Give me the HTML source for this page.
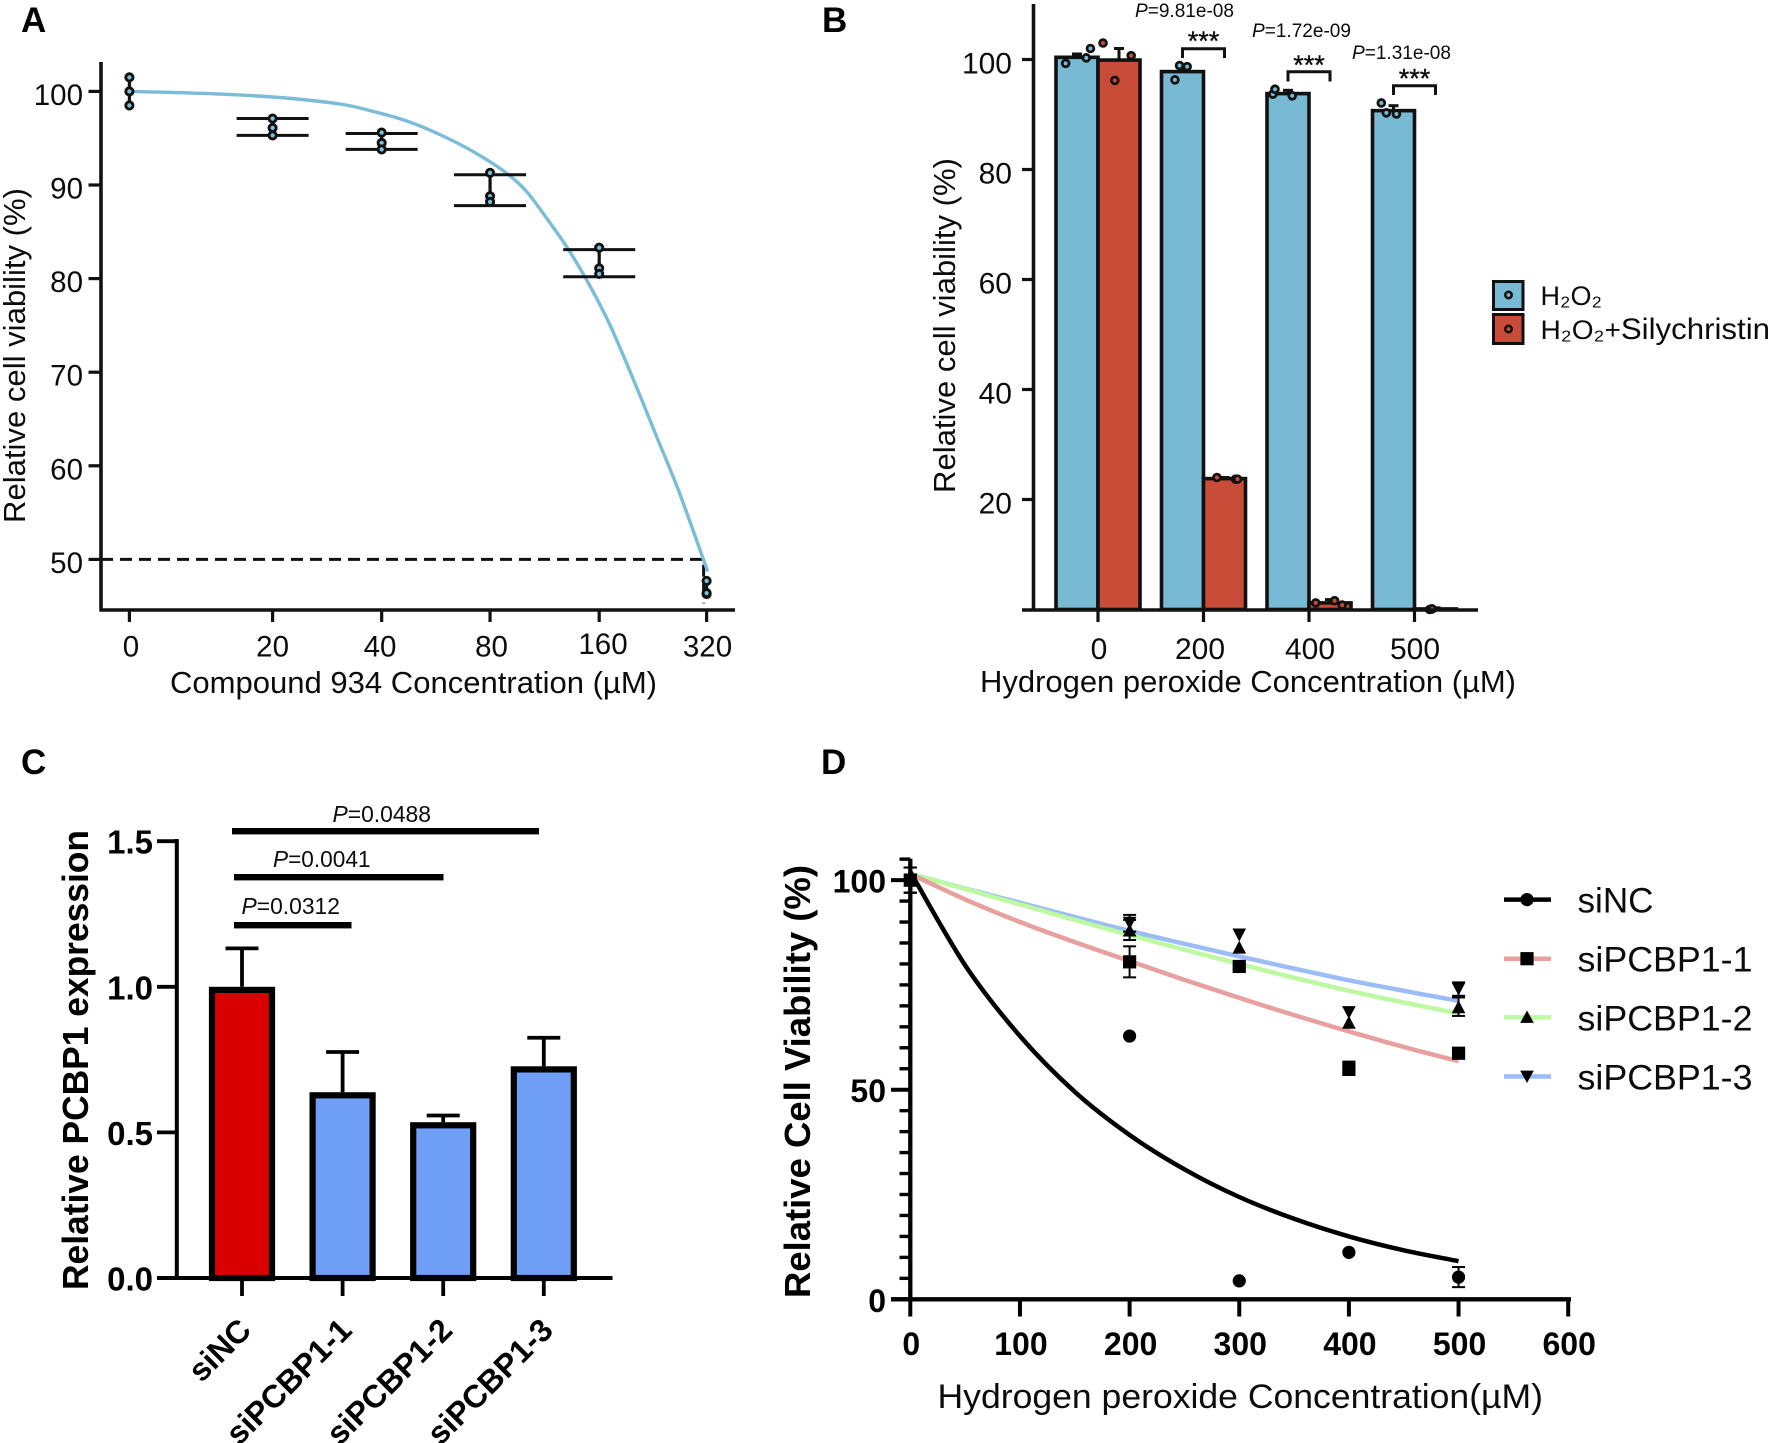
<!DOCTYPE html>
<html lang="en">
<head>
<meta charset="utf-8">
<title>Cell viability figure panels A-D</title>
<style>
html,body{margin:0;padding:0;background:#fff;}
svg{display:block;font-family:"Liberation Sans",sans-serif;fill:#0c0c0c;}
.letter{font-size:35px;font-weight:700;fill:#000;}
.bold{font-weight:700;fill:#000;}
</style>
</head>
<body>
<svg id="fig" xmlns="http://www.w3.org/2000/svg" width="1772" height="1443" viewBox="0 0 1772 1443">
<rect width="1772" height="1443" fill="#fff"/>

<text class="letter" x="21" y="32">A</text>
<text class="letter" x="822" y="32">B</text>
<text class="letter" x="21" y="774">C</text>
<text class="letter" x="821" y="774">D</text>

<g id="panelA">
  <text transform="translate(25,523) rotate(-90)" font-size="31" textLength="335" lengthAdjust="spacingAndGlyphs">Relative cell viability (%)</text>
  <text x="170" y="693" font-size="31" textLength="487" lengthAdjust="spacingAndGlyphs">Compound 934 Concentration (µM)</text>
</g>

<g id="panelB">
  <text transform="translate(955,493) rotate(-90)" font-size="31" textLength="335" lengthAdjust="spacingAndGlyphs">Relative cell viability (%)</text>
  <text x="980" y="692" font-size="31" textLength="536" lengthAdjust="spacingAndGlyphs">Hydrogen peroxide Concentration (µM)</text>
  <g>
    <text x="1135" y="17" font-size="19" textLength="99" lengthAdjust="spacingAndGlyphs"><tspan font-style="italic">P</tspan>=9.81e-08</text>
    <text x="1203.5" y="50" font-size="27" text-anchor="middle" stroke="#111" stroke-width="0.4">***</text>
    <path d="M1182.5 58V48.7H1224.5V58" fill="none" stroke="#111" stroke-width="3"/>
  </g>
  <g>
    <text x="1252" y="37" font-size="19" textLength="99" lengthAdjust="spacingAndGlyphs"><tspan font-style="italic">P</tspan>=1.72e-09</text>
    <text x="1309" y="74" font-size="27" text-anchor="middle" stroke="#111" stroke-width="0.4">***</text>
    <path d="M1288 81.5V71.7H1330V81.5" fill="none" stroke="#111" stroke-width="3"/>
  </g>
  <g>
    <text x="1352" y="59" font-size="19" textLength="99" lengthAdjust="spacingAndGlyphs"><tspan font-style="italic">P</tspan>=1.31e-08</text>
    <text x="1414.5" y="87.5" font-size="27" text-anchor="middle" stroke="#111" stroke-width="0.4">***</text>
    <path d="M1393.5 95V85.7H1435.5V95" fill="none" stroke="#111" stroke-width="3"/>
  </g>
  <g>
    <g>
      <rect x="1493.5" y="281.5" width="29.5" height="28" fill="#78b9d3" stroke="#111" stroke-width="3"/>
      <circle cx="1508.5" cy="295" r="3.2" fill="#78b9d3" stroke="#111" stroke-width="2.6"/>
      <text x="1540.5" y="305" font-size="27">H₂O₂</text>
    </g>
    <g>
      <rect x="1493.5" y="314.5" width="29.5" height="29" fill="#c94c38" stroke="#111" stroke-width="3"/>
      <circle cx="1508.5" cy="329" r="3.2" fill="#c94c38" stroke="#111" stroke-width="2.6"/>
      <text x="1540.5" y="339" font-size="27" textLength="229.5" lengthAdjust="spacingAndGlyphs">H₂O₂+<tspan font-size="30">Silychristin</tspan></text>
    </g>
  </g>
</g>

<g id="panelC">
  <text class="bold" transform="translate(88,1290) rotate(-90)" font-size="36" textLength="460" lengthAdjust="spacingAndGlyphs">Relative PCBP1 expression</text>
  <g>
    <rect x="232" y="828" width="307" height="6.4" fill="#000"/>
    <text x="332.5" y="822" font-size="22.7" textLength="98.5" lengthAdjust="spacingAndGlyphs"><tspan font-style="italic">P</tspan>=0.0488</text>
    <rect x="234" y="874" width="209.5" height="6.4" fill="#000"/>
    <text x="273" y="867" font-size="22.7" textLength="97.5" lengthAdjust="spacingAndGlyphs"><tspan font-style="italic">P</tspan>=0.0041</text>
    <rect x="234" y="922" width="117.5" height="6.4" fill="#000"/>
    <text x="241.5" y="914" font-size="22.7" textLength="98.5" lengthAdjust="spacingAndGlyphs"><tspan font-style="italic">P</tspan>=0.0312</text>
  </g>
</g>

<g id="panelD">
  <text class="bold" transform="translate(810,1298) rotate(-90)" font-size="36" textLength="433" lengthAdjust="spacingAndGlyphs">Relative Cell Viability (%)</text>
  <text x="937.5" y="1408" font-size="34" textLength="605.5" lengthAdjust="spacingAndGlyphs">Hydrogen peroxide Concentration(µM)</text>
  <g>
    <g>
      <path d="M1504 899.6H1551" stroke="#000" stroke-width="4.5"/>
      <circle cx="1527" cy="899.6" r="6.6" fill="#000"/>
      <text x="1577.5" y="912.5" font-size="35" textLength="76" lengthAdjust="spacingAndGlyphs">siNC</text>
    </g>
    <g>
      <path d="M1504 958.7H1551" stroke="#e8a09f" stroke-width="4.5"/>
      <rect x="1520.4" y="952.1" width="13.2" height="13.2" fill="#000"/>
      <text x="1577.5" y="971.5" font-size="35" textLength="175" lengthAdjust="spacingAndGlyphs">siPCBP1-1</text>
    </g>
    <g>
      <path d="M1504 1017.4H1551" stroke="#bcf9a0" stroke-width="4.5"/>
      <path d="M1527 1010.5l6.8 12.4h-13.6z" fill="#000"/>
      <text x="1577.5" y="1030.5" font-size="35" textLength="175" lengthAdjust="spacingAndGlyphs">siPCBP1-2</text>
    </g>
    <g>
      <path d="M1504 1076.5H1551" stroke="#9cbcf7" stroke-width="4.5"/>
      <path d="M1527 1083l6.8-12.4h-13.6z" fill="#000"/>
      <text x="1577.5" y="1089.5" font-size="35" textLength="175" lengthAdjust="spacingAndGlyphs">siPCBP1-3</text>
    </g>
  </g>
</g>
</svg>

<script>
/* ---------- Panel A data ---------- */
const aCategories = ['0', '20', '40', '80', '160', '320'];
const aLogDose = [3, 4.32, 5.325, 6.324, 7.33, 8.32];
const aYTicks = [100, 90, 80, 70, 60, 50];
const aRep1 = [101.5, 97.1, 95.6, 91.3, 83.3, 47.7];
const aRep2 = [100, 96.1, 94.5, 88.8, 81.1, 46.3];
const aRep3 = [98.5, 95.3, 93.8, 88.2, 80.5, 46.4];
const aCapHigh = [101.5, 97.1, 95.5, 91.1, 83.1, 47.7];
const aCapLow = [98.5, 95.3, 93.8, 87.8, 80.2, 46.3];
const aHasCaps = [false, true, true, true, true, false];
const aCurveLog = [3, 3.64, 4.33, 4.94, 5.25, 5.556, 5.86, 6.17, 6.477, 6.662, 6.846, 7.03, 7.215, 7.4, 7.55, 7.706, 7.86, 8.06, 8.29, 8.33];
const aCurveVal = [100, 99.8, 99.4, 98.65, 97.85, 96.84, 95.4, 93.56, 91.25, 89.28, 86.44, 83.4, 79.85, 75.76, 71.85, 67.5, 63.1, 57.4, 50, 48.7];
const aCutoff = 50;

/* ---------- Panel B data ---------- */
const bCategories = ['0', '200', '400', '500'];
const bYTicks = [100, 80, 60, 40, 20];
const bH2O2 = [100.4, 97.8, 93.8, 90.7];
const bSily = [99.9, 23.8, 1.2, 0.1];
const bH2O2Err = [101, 98.6, 94.4, 91.6];
const bSilyErr = [102, 24, 1.8, 0.3];
const bH2O2Reps = [[99.3, 100.3, 102], [96.3, 98.9, 98.7], [93.7, 94.6, 93.4], [92.1, 90.3, 90.1]];
const bSilyReps = [[103, 96.2, 100.7], [24, 23.7, 23.7], [1.2, 1.6, 0.8], [0, 0.1, 0.1]];
const bH2O2Jitter = [[-0.27, 0.22, 0.32], [-0.18, -0.07, 0.11], [-0.36, -0.31, 0.1], [-0.29, -0.17, 0.07]];
const bSilyJitter = [[-0.38, -0.1, 0.29], [-0.18, 0.26, 0.31], [-0.34, 0.11, 0.29], [-0.14, -0.1, -0.08]];

/* ---------- Panel C data ---------- */
const cCategories = ['siNC', 'siPCBP1-1', 'siPCBP1-2', 'siPCBP1-3'];
const cValues = [1.0, 0.638, 0.535, 0.727];
const cErrTop = [1.132, 0.776, 0.558, 0.825];
const cYTicks = [1.5, 1.0, 0.5, 0.0];
const cColors = ['#db0000', '#6f9ff6', '#6f9ff6', '#6f9ff6'];

/* ---------- Panel D data ---------- */
const dXTicks = [0, 100, 200, 300, 400, 500, 600];
const dYMajor = [100, 50, 0];
const dYMinor = [105, 95, 90, 85, 80, 75, 70, 65, 60, 55, 45, 40, 35, 30, 25, 20, 15, 10, 5];
const dCurveDose = [0, 50, 100, 150, 200, 250, 300, 350, 400, 450, 500];
const dCurveNC = [102, 79.7, 62.8, 49.5, 39.2, 31, 24.4, 19.2, 15, 11.7, 9.1];
const dCurveP1 = [101.5, 95.4, 90, 85.2, 80.7, 76.2, 71.9, 67.8, 63.9, 60.2, 56.8];
const dCurveP2 = [101.5, 97.9, 94.2, 90.5, 86.9, 83.4, 80, 76.7, 73.6, 70.8, 68.2];
const dCurveP3 = [101.5, 98, 94.6, 91.2, 87.9, 84.8, 81.8, 78.9, 76.1, 73.6, 71.2];
const dPointDose = [0, 200, 300, 400, 500];
const dPtsNC = [100, 62.8, 4.4, 11.2, 5.3];
const dErrNC = [3, 0, 0, 0, 2.4];
const dPtsP1 = [100, 80.5, 79.4, 55.1, 58.7];
const dErrP1 = [3, 3.7, 0.5, 1.6, 0.3];
const dPtsP2 = [100, 88.1, 84, 66.1, 69.8];
const dErrP2 = [3, 2.4, 0, 0, 2.2];
const dPtsP3 = [100, 89.7, 86.9, 68.4, 74];
const dErrP3 = [3, 2, 0, 0, 1.6];

/* ---------- helpers ---------- */
const SVGNS = 'http://www.w3.org/2000/svg';
function mk(parent, tag, attrs, name, text) {
  const el = document.createElementNS(SVGNS, tag);
  for (const k in attrs) el.setAttribute(k, attrs[k]);
  
  
  if (text !== undefined) el.textContent = text;
  parent.appendChild(el);
  return el;
}
function ln(parent, x1, y1, x2, y2, w, color, name) {
  return mk(parent, 'line', {x1: x1, y1: y1, x2: x2, y2: y2, stroke: color || '#111', 'stroke-width': w}, name);
}
function smooth(pts) {
  let d = 'M' + pts[0][0].toFixed(1) + ' ' + pts[0][1].toFixed(1);
  for (let i = 0; i < pts.length - 1; i++) {
    const p0 = pts[i - 1] || pts[i], p1 = pts[i], p2 = pts[i + 1], p3 = pts[i + 2] || p2;
    const c1x = p1[0] + (p2[0] - p0[0]) / 6, c1y = p1[1] + (p2[1] - p0[1]) / 6;
    const c2x = p2[0] - (p3[0] - p1[0]) / 6, c2y = p2[1] - (p3[1] - p1[1]) / 6;
    d += 'C' + c1x.toFixed(1) + ' ' + c1y.toFixed(1) + ' ' + c2x.toFixed(1) + ' ' + c2y.toFixed(1) + ' ' + p2[0].toFixed(1) + ' ' + p2[1].toFixed(1);
  }
  return d;
}

/* ---------- Panel A ---------- */
(function () {
  const g = document.getElementById('panelA');
  const xA = function (l) { return 129.4 + (l - 3) * 108.5; };
  const yA = function (v) { return 91.4 + (100 - v) * 9.36; };
  const xLabelCx = [131, 272.6, 380, 491.5, 603, 707.5];
  ln(g, 101, 62, 101, 611.5, 3.6, '#111', 'y-axis-a');
  ln(g, 100, 610, 735, 610, 3.6, '#111', 'x-axis-a');
  aYTicks.forEach(function (t) {
    ln(g, 88.5, yA(t), 101, yA(t), 3.2, '#111', 'y-tick-a-' + t);
    mk(g, 'text', {x: 83, y: yA(t) + 13.5, 'font-size': 29.5, 'text-anchor': 'end'}, 'y-tick-label-a-' + t, String(t));
  });
  aCategories.forEach(function (c, i) {
    ln(g, xA(aLogDose[i]), 610, xA(aLogDose[i]), 622, 3.2, '#111', 'x-tick-a-' + c);
    mk(g, 'text', {x: xLabelCx[i], y: c === '160' ? 654 : 656.5, 'font-size': 29.5, 'text-anchor': 'middle'}, 'x-tick-label-a-' + c, c);
  });
  mk(g, 'path', {d: 'M101 ' + yA(aCutoff) + 'H' + (xA(8.32) - 3) + 'V' + yA(45.3), fill: 'none', stroke: '#111', 'stroke-width': 3, 'stroke-dasharray': '12 7'}, 'ic50-dashed-line');
  const pts = aCurveLog.map(function (l, i) { return [xA(l), yA(aCurveVal[i])]; });
  mk(g, 'path', {d: smooth(pts), fill: 'none', stroke: '#7bbcd8', 'stroke-width': 3.4}, 'fit-curve');
  aCategories.forEach(function (c, i) {
    const x = xA(aLogDose[i]);
    ln(g, x, yA(aCapHigh[i]), x, yA(aCapLow[i]), 3.2, '#111', 'error-bar-' + c);
    if (aHasCaps[i]) {
      ln(g, x - 36, yA(aCapHigh[i]), x + 36, yA(aCapHigh[i]), 3, '#111', 'error-cap-high-' + c);
      ln(g, x - 36, yA(aCapLow[i]), x + 36, yA(aCapLow[i]), 3, '#111', 'error-cap-low-' + c);
    }
    [aRep1[i], aRep2[i], aRep3[i]].forEach(function (v, j) {
      mk(g, 'circle', {cx: x, cy: yA(v), r: 3.6, fill: '#7bc0dc', stroke: '#111', 'stroke-width': 2.9}, 'point-' + c + '-' + j);
    });
  });
})();

/* ---------- Panel B ---------- */
(function () {
  const g = document.getElementById('panelB');
  const xB = function (i) { return 1098 + 105.5 * i; };
  const yB = function (v) { return 609.5 - 5.5 * v; };
  const BW = 42;
  const labelCx = [1099, 1200, 1310, 1415];
  ln(g, 1033.5, 4, 1033.5, 611, 3.6, '#111', 'y-axis-b');
  bYTicks.forEach(function (t) {
    ln(g, 1022, yB(t), 1033.5, yB(t), 3.2, '#111', 'y-tick-b-' + t);
    mk(g, 'text', {x: 1012, y: yB(t) + 14, 'font-size': 30, 'text-anchor': 'end'}, 'y-tick-label-b-' + t, String(t));
  });
  bCategories.forEach(function (c, i) {
    const x = xB(i);
    ln(g, x - BW / 2, yB(bH2O2Err[i]), x - BW / 2, yB(bH2O2[i]), 3, '#111', 'error-h2o2-' + c);
    ln(g, x - BW / 2 - 5, yB(bH2O2Err[i]), x - BW / 2 + 5, yB(bH2O2Err[i]), 3, '#111', 'error-cap-h2o2-' + c);
    ln(g, x + BW / 2, yB(bSilyErr[i]), x + BW / 2, yB(bSily[i]), 3, '#111', 'error-sily-' + c);
    ln(g, x + BW / 2 - 5, yB(bSilyErr[i]), x + BW / 2 + 5, yB(bSilyErr[i]), 3, '#111', 'error-cap-sily-' + c);
    mk(g, 'rect', {x: x - BW, y: yB(bH2O2[i]), width: BW, height: yB(0) - yB(bH2O2[i]), fill: '#78b9d3', stroke: '#111', 'stroke-width': 3.6}, 'bar-h2o2-' + c);
    mk(g, 'rect', {x: x, y: yB(bSily[i]), width: BW, height: yB(0) - yB(bSily[i]), fill: '#c94c38', stroke: '#111', 'stroke-width': 3.6}, 'bar-h2o2-silychristin-' + c);
    ln(g, x, 610, x, 622, 3.2, '#111', 'x-tick-b-' + c);
    mk(g, 'text', {x: labelCx[i], y: 659, 'font-size': 30, 'text-anchor': 'middle'}, 'x-tick-label-b-' + c, c);
    bH2O2Reps[i].forEach(function (v, j) {
      mk(g, 'circle', {cx: x - BW / 2 + bH2O2Jitter[i][j] * BW, cy: yB(v), r: 3.4, fill: '#78b9d3', stroke: '#111', 'stroke-width': 2.8}, 'point-h2o2-' + c + '-' + j);
    });
    bSilyReps[i].forEach(function (v, j) {
      mk(g, 'circle', {cx: x + BW / 2 + bSilyJitter[i][j] * BW, cy: yB(v), r: 3.4, fill: '#c94c38', stroke: '#111', 'stroke-width': 2.8}, 'point-sily-' + c + '-' + j);
    });
  });
  ln(g, 1022, 610, 1478, 610, 3.6, '#111', 'x-axis-b');
})();

/* ---------- Panel C ---------- */
(function () {
  const g = document.getElementById('panelC');
  const xC = function (i) { return 242 + 100.6 * i; };
  const yC = function (v) { return 1278 - 291.2 * v; };
  const BW = 60;
  const SW = 6.2;
  cCategories.forEach(function (c, i) {
    const x = xC(i);
    ln(g, x, yC(cErrTop[i]), x, yC(cValues[i]), 3.8, '#000', 'error-bar-' + c);
    ln(g, x - 16.5, yC(cErrTop[i]), x + 16.5, yC(cErrTop[i]), 3.8, '#000', 'error-cap-' + c);
    mk(g, 'rect', {x: x - BW / 2, y: yC(cValues[i]) + SW / 2, width: BW, height: yC(0) - yC(cValues[i]) - SW / 2, fill: cColors[i], stroke: '#000', 'stroke-width': SW}, 'bar-' + c);
    ln(g, x, 1278, x, 1296, 3.8, '#000', 'x-tick-c-' + c);
    mk(g, 'text', {transform: 'translate(' + (x + 11) + ',1332) rotate(-45)', 'font-size': 32, 'font-weight': 700, fill: '#000', 'text-anchor': 'end'}, 'x-tick-label-c-' + c, c);
  });
  ln(g, 176.8, 839, 176.8, 1280, 4, '#000', 'y-axis-c');
  ln(g, 157, 1278, 612.5, 1278, 4, '#000', 'x-axis-c');
  cYTicks.forEach(function (t) {
    const lab = t.toFixed(1);
    ln(g, 157, yC(t), 176.8, yC(t), 3.8, '#000', 'y-tick-c-' + lab);
    mk(g, 'text', {x: 153, y: yC(t) + 12.5, 'font-size': 33, 'font-weight': 700, fill: '#000', 'text-anchor': 'end'}, 'y-tick-label-c-' + lab, lab);
  });
})();

/* ---------- Panel D ---------- */
(function () {
  const g = document.getElementById('panelD');
  const xD = function (d) { return 910.3 + 1.0965 * d; };
  const yD = function (v) { return 1299.3 - 4.192 * v; };
  dYMinor.forEach(function (t) {
    ln(g, 899.5, yD(t), xD(0), yD(t), 3.4, '#000', 'y-minor-tick-d-' + t);
  });
  dYMajor.forEach(function (t) {
    ln(g, 891, yD(t), xD(0), yD(t), 4, '#000', 'y-tick-d-' + t);
    mk(g, 'text', {x: 886, y: yD(t) + 12.5, 'font-size': 32, 'font-weight': 700, fill: '#000', 'text-anchor': 'end'}, 'y-tick-label-d-' + t, String(t));
  });
  dXTicks.forEach(function (t) {
    ln(g, xD(t), 1299.3, xD(t), 1316.5, 4, '#000', 'x-tick-d-' + t);
    mk(g, 'text', {x: xD(t) + 1, y: 1355, 'font-size': 32, 'font-weight': 700, fill: '#000', 'text-anchor': 'middle'}, 'x-tick-label-d-' + t, String(t));
  });
  ln(g, xD(0), 858.7, xD(0), 1301, 4.3, '#000', 'y-axis-d');
  ln(g, 891, 1299.3, 1571, 1299.3, 4.3, '#000', 'x-axis-d');

  function curve(vals, color, w, name) {
    const pts = dCurveDose.map(function (d, i) { return [xD(d), yD(vals[i])]; });
    mk(g, 'path', {d: smooth(pts), fill: 'none', stroke: color, 'stroke-width': w}, name);
  }
  curve(dCurveP3, '#9cbcf7', 4.5, 'curve-sipcbp1-3');
  curve(dCurveP2, '#bcf9a0', 4.5, 'curve-sipcbp1-2');
  curve(dCurveP1, '#e8a09f', 4.5, 'curve-sipcbp1-1');
  curve(dCurveNC, '#000', 4.5, 'curve-sinc');

  function series(vals, errs, kind, name) {
    dPointDose.forEach(function (d, i) {
      const x = xD(d), y = yD(vals[i]), s = 6.6;
      if (errs[i] > 0) {
        const hi = yD(vals[i] + errs[i]), lo = yD(vals[i] - errs[i]);
        ln(g, x, hi, x, lo, 2, '#000', 'error-bar-' + name + '-' + d);
        ln(g, x - 6.5, hi, x + 6.5, hi, 2, '#000', 'error-cap-high-' + name + '-' + d);
        ln(g, x - 6.5, lo, x + 6.5, lo, 2, '#000', 'error-cap-low-' + name + '-' + d);
      }
      if (kind === 'circle') {
        mk(g, 'circle', {cx: x, cy: y, r: s, fill: '#000'}, 'point-' + name + '-' + d);
      } else if (kind === 'square') {
        mk(g, 'rect', {x: x - s, y: y - s, width: 2 * s, height: 2 * s, fill: '#000'}, 'point-' + name + '-' + d);
      } else if (kind === 'up') {
        mk(g, 'path', {d: 'M' + x + ' ' + (y - 6.5) + 'l6.8 13h-13.6z', fill: '#000'}, 'point-' + name + '-' + d);
      } else {
        mk(g, 'path', {d: 'M' + x + ' ' + (y + 6.5) + 'l6.8 -13h-13.6z', fill: '#000'}, 'point-' + name + '-' + d);
      }
    });
  }
  series(dPtsNC, dErrNC, 'circle', 'sinc');
  series(dPtsP1, dErrP1, 'square', 'sipcbp1-1');
  series(dPtsP2, dErrP2, 'up', 'sipcbp1-2');
  series(dPtsP3, dErrP3, 'down', 'sipcbp1-3');
})();
</script>
</body>
</html>
